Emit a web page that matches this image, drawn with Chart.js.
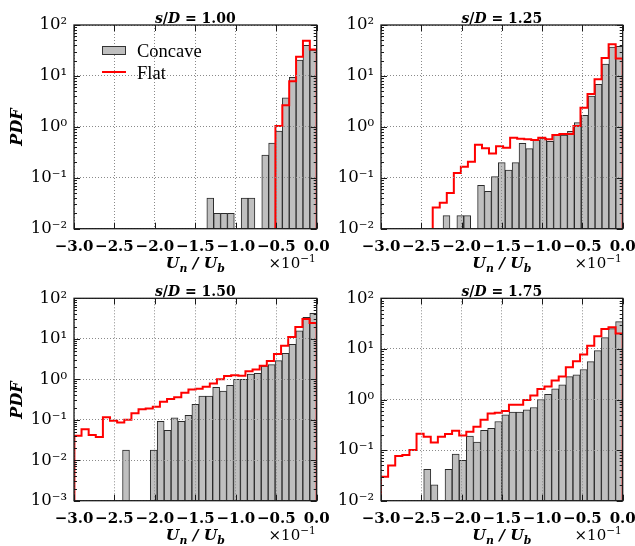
<!DOCTYPE html>
<html lang="en">
<head>
<meta charset="UTF-8">
<title>PDF of Un / Ub</title>
<script src="https://cdn.jsdelivr.net/npm/chart.js@4.4.1/dist/chart.umd.min.js"></script>
<style>
  html, body { margin: 0; padding: 0; background: #fff; }
  #page { position: relative; width: 635px; height: 546px; overflow: hidden; font-family: 'DejaVu Serif', serif; color: #000; }
  #page canvas { position: absolute; left: 0; top: 0; }
  .lbl { position: absolute; white-space: nowrap; line-height: 1; }
  .title { font-size: 14px; font-weight: bold; transform: translate(-50%, -50%); }
  .xlab { font-size: 15.5px; font-weight: bold; font-style: italic; transform: translate(-50%, -50%); }
  .offset { font-size: 15px; transform: translate(-100%, -50%); }
  .ylab { font-size: 16px; font-weight: bold; font-style: italic; transform: translate(-50%, -50%) rotate(-90deg); }
  .leg { font-family: 'Liberation Serif', serif; font-size: 18.5px; transform: translateY(-50%); }
  .patch { position: absolute; background: #bfbfbf; border: 1px solid #333; box-sizing: border-box; }
  .redline { position: absolute; background: #f00; }
  sub, sup { font-size: 70%; line-height: 0; }
</style>
</head>
<body>
<div id="page">
  <canvas id="c0" width="635" height="546"></canvas>
  <canvas id="c1" width="635" height="546"></canvas>
  <canvas id="c2" width="635" height="546"></canvas>
  <canvas id="c3" width="635" height="546"></canvas>
</div>

<script>
  // s/D of each panel
  const spacings = ['1.00', '1.25', '1.50', '1.75'];
  const yMins = [1e-2, 1e-2, 1e-3, 1e-2];
  const yMax = 1e2;
  const xMin = -3.0, xMax = 0.0, xStep = 0.5;

  // Concave histogram: left edge of first bin, bins run up to 0
  const concaveStart = [-1.358, -2.23, -2.40, -2.47];
  const concave100 = [0.04, 0.02, 0.02, 0.02, 0, 0.04, 0.04, 0, 0.28, 0.48, 0.83, 3.7, 9.4, 20.5, 40, 32];
  const concave125 = [0.018, 0, 0.018, 0.018, 0, 0.071, 0.054, 0.105, 0.198, 0.142, 0.198, 0.474, 0.373,
    0.551, 0.603, 0.519, 0.713, 0.692, 0.816, 1.21, 1.68, 4.03, 6.84, 17.1, 37, 38];
  const concave150 = [0.0179, 0, 0, 0, 0.0179, 0.0916, 0.0548, 0.111, 0.0916, 0.129, 0.24, 0.386, 0.386,
    0.63, 0.51, 0.71, 1.0, 1.0, 1.35, 1.4, 2.12, 2.29, 2.88, 4.37, 7.3, 15.8, 34, 42.6];
  const concave175 = [0.0416, 0.0207, 0, 0.0416, 0.0836, 0.0627, 0.19, 0.144, 0.245, 0.269, 0.368, 0.498,
    0.562, 0.562, 0.625, 0.695, 1.0, 1.27, 1.62, 1.95, 2.84, 3.07, 3.91, 5.62, 9.27, 16.7, 25.2, 34.6];

  // Flat histogram (step outline)
  const flatStart = [-0.51, -2.358, -2.995, -3.0];
  const flat100 = [1.04, 2.65, 7.9, 23.9, 49, 33];
  const flat125 = [0.026, 0.0324, 0.05, 0.124, 0.165, 0.207, 0.447, 0.38, 0.30, 0.416, 0.39, 0.61, 0.586,
    0.57, 0.553, 0.61, 0.57, 0.69, 0.725, 0.725, 1.04, 2.38, 4.43, 8.6, 22.6, 42, 22];
  const flat150 = [0.040, 0.058, 0.042, 0.0375, 0.115, 0.095, 0.085, 0.10, 0.144, 0.181, 0.19, 0.21, 0.279,
    0.325, 0.358, 0.466, 0.56, 0.58, 0.65, 0.79, 1.0, 1.2, 1.25, 1.22, 1.57, 1.74, 2.17, 2.83, 4.2, 6.7,
    11.0, 19.5, 30.8, 24.5];
  const flat175 = [0.0298, 0.0499, 0.0763, 0.08, 0.1, 0.211, 0.184, 0.142, 0.184, 0.208, 0.242, 0.195, 0.231,
    0.29, 0.40, 0.53, 0.545, 0.59, 0.785, 0.785, 0.98, 1.2, 1.62, 1.81, 2.37, 2.84, 4.35, 5.72, 7.73, 11.6,
    17.8, 24.8, 26.8, 20.1];

  const concave = [concave100, concave125, concave150, concave175];
  const flat = [flat100, flat125, flat150, flat175];

  // plot boxes in page pixels
  const areas = [
    { left: 74, top: 25, right: 316.7, bottom: 228.7 },
    { left: 381, top: 25, right: 622.7, bottom: 228.7 },
    { left: 74, top: 298.3, right: 316.7, bottom: 500.7 },
    { left: 381, top: 298.3, right: 622.7, bottom: 500.7 }
  ];
  const W = 635, H = 546, yAxisW = 60, xAxisH = 40;
  const serif = 'DejaVu Serif';
  const supMap = { '-': '\u207b', '0': '\u2070', '1': '\u00b9', '2': '\u00b2', '3': '\u00b3' };

  function barPoints(start, vals) {
    const w = -start / vals.length;
    return vals.map((v, i) => ({ x: start + (i + 0.5) * w, y: v })).filter(p => p.y > 0);
  }

  function stepPoints(start, vals, base) {
    const w = -start / vals.length;
    const pts = [{ x: start, y: base }];
    vals.forEach((v, i) => {
      const y = v > 0 ? v : base;
      pts.push({ x: start + i * w, y: y }, { x: start + (i + 1) * w, y: y });
    });
    pts.push({ x: 0, y: base });
    return pts;
  }

  function logTicks(min, max) {
    const ticks = [];
    for (let e = Math.round(Math.log10(min)); e < Math.round(Math.log10(max)); e++) {
      for (let m = 1; m < 10; m++) ticks.push({ value: m * Math.pow(10, e), major: m === 1 });
    }
    ticks.push({ value: max, major: true });
    return ticks;
  }

  function powLabel(v) {
    const e = Math.round(Math.log10(v));
    return '10' + String(e).split('').map(c => supMap[c]).join('');
  }

  function xLabel(v) {
    return (v < 0 ? '\u2212' : '') + Math.abs(v).toFixed(1);
  }

  // frame with inward ticks on all four sides
  const framePlugin = {
    id: 'frame',
    afterDraw(chart) {
      const { ctx, chartArea: a, scales: { x, y } } = chart;
      ctx.save();
      ctx.strokeStyle = '#1a1a1a';
      ctx.lineWidth = 1;
      ctx.beginPath();
      y.ticks.forEach(t => {
        const py = Math.round(y.getPixelForValue(t.value)) + 0.5;
        const len = t.major ? 6 : 3;
        ctx.moveTo(a.left, py); ctx.lineTo(a.left + len, py);
        ctx.moveTo(a.right, py); ctx.lineTo(a.right - len, py);
      });
      x.ticks.forEach(t => {
        const px = Math.round(x.getPixelForValue(t.value)) + 0.5;
        ctx.moveTo(px, a.top); ctx.lineTo(px, a.top + 6);
        ctx.moveTo(px, a.bottom); ctx.lineTo(px, a.bottom - 6);
      });
      ctx.stroke();
      ctx.lineWidth = 1.3;
      ctx.strokeRect(a.left, a.top, a.right - a.left, a.bottom - a.top);
      ctx.restore();
    }
  };

  function makeChart(i) {
    const a = areas[i];
    const yMin = yMins[i];
    new Chart(document.getElementById('c' + i), {
      type: 'bar',
      data: {
        datasets: [
          {
            type: 'line',
            label: 'Flat',
            data: stepPoints(flatStart[i], flat[i], yMin),
            borderColor: '#ff0000',
            borderWidth: 2,
            pointRadius: 0,
            tension: 0,
            fill: false,
            order: 0
          },
          {
            type: 'bar',
            label: 'Concave',
            data: barPoints(concaveStart[i], concave[i]),
            backgroundColor: '#bfbfbf',
            borderColor: '#2b2b2b',
            borderWidth: 1,
            barPercentage: 1,
            categoryPercentage: 1,
            order: 1
          }
        ]
      },
      options: {
        responsive: false,
        devicePixelRatio: 1,
        animation: false,
        events: [],
        layout: {
          padding: {
            left: a.left - yAxisW,
            top: a.top,
            right: W - a.right,
            bottom: H - a.bottom - xAxisH
          }
        },
        plugins: { legend: { display: false }, tooltip: { enabled: false } },
        scales: {
          x: {
            type: 'linear',
            min: xMin,
            max: xMax,
            offset: false,
            afterFit(s) { s.height = xAxisH; s.paddingLeft = 0; s.paddingRight = 0; },
            grid: { offset: false, drawTicks: false, color: '#8a8a8a', lineWidth: 1, z: 1 },
            border: { display: false, dash: [1, 2] },
            ticks: {
              stepSize: xStep,
              padding: 9,
              maxRotation: 0,
              autoSkip: false,
              color: '#000',
              font: { family: serif, size: 15, weight: 'bold' },
              callback: v => xLabel(v)
            }
          },
          y: {
            type: 'logarithmic',
            min: yMin,
            max: yMax,
            afterBuildTicks(s) { s.ticks = logTicks(yMin, yMax); },
            afterFit(s) { s.width = yAxisW; s.paddingTop = 0; s.paddingBottom = 0; },
            grid: {
              drawTicks: false,
              lineWidth: 1,
              z: 1,
              color: c => (c.tick && c.tick.major ? '#8a8a8a' : 'rgba(0,0,0,0)')
            },
            border: { display: false, dash: [1, 2] },
            ticks: {
              padding: 7,
              autoSkip: false,
              color: '#000',
              font: { family: serif, size: 16.5 },
              callback: (v, idx, ticks) => (ticks[idx].major ? powLabel(v) : '')
            }
          }
        }
      },
      plugins: [framePlugin]
    });
  }

  function addLabel(cls, html, left, top) {
    const d = document.createElement('div');
    d.className = 'lbl ' + cls;
    d.innerHTML = html;
    d.style.left = left + 'px';
    d.style.top = top + 'px';
    document.getElementById('page').appendChild(d);
    return d;
  }

  areas.forEach((a, i) => {
    makeChart(i);
    const cx = (a.left + a.right) / 2;
    addLabel('title', '<i>s</i>/<i>D</i> = ' + spacings[i], cx, a.top - 7.5);
    addLabel('xlab', 'U<sub>n</sub> / U<sub>b</sub>', cx, a.bottom + 34);
    addLabel('offset', '\u00d710<sup>\u22121</sup>', a.right - 1, a.bottom + 34);
    if (a.left < 100) addLabel('ylab', 'PDF', 17, (a.top + a.bottom) / 2);
  });

  // legend, first panel only
  const a0 = areas[0];
  const patch = document.createElement('div');
  patch.className = 'patch';
  Object.assign(patch.style, { left: (a0.left + 27.7) + 'px', top: (a0.top + 21) + 'px', width: '24.3px', height: '8.5px' });
  document.getElementById('page').appendChild(patch);
  const red = document.createElement('div');
  red.className = 'redline';
  Object.assign(red.style, { left: (a0.left + 27.7) + 'px', top: (a0.top + 46) + 'px', width: '24.3px', height: '2px' });
  document.getElementById('page').appendChild(red);
  addLabel('leg', 'Concave', a0.left + 63, a0.top + 26);
  addLabel('leg', 'Flat', a0.left + 63, a0.top + 48);
</script>
</body>
</html>
